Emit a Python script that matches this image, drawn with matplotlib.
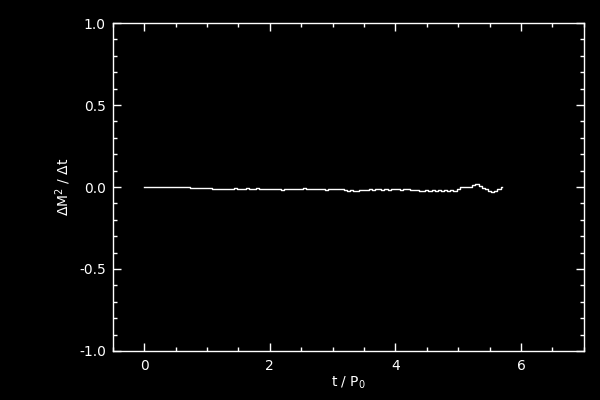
import numpy as np
import matplotlib
matplotlib.use('Agg')
import matplotlib.pyplot as plt
from matplotlib.ticker import MultipleLocator

# time in units of P0, sampled every 0.05
t = np.arange(0, 5.7001, 0.05)
dm2 = [0.0, 0.0, 0.0, 0.0, 0.0, 0.0, 0.0, 0.0, 0.0, 0.0, 0.0, 0.0, 0.0, 0.0, 0.0,
       -0.006, -0.006, -0.006, -0.006, -0.006, -0.006, -0.006,
       -0.012, -0.012, -0.012, -0.010, -0.012, -0.012,
       -0.012, -0.008, -0.012, -0.010, -0.012, -0.008, -0.012, -0.012, -0.008, -0.012, -0.010, -0.012,
       -0.012, -0.014, -0.010, -0.012, -0.016, -0.012, -0.012, -0.010, -0.014, -0.012,
       -0.012, -0.008, -0.010, -0.012, -0.014, -0.012, -0.010, -0.012, -0.016, -0.012,
       -0.012, -0.010, -0.014, -0.012, -0.016, -0.024, -0.020, -0.026, -0.022, -0.018,
       -0.020, -0.016, -0.014, -0.018, -0.012, -0.014, -0.016, -0.012, -0.016, -0.014,
       -0.014, -0.012, -0.016, -0.014, -0.014, -0.018, -0.016, -0.020, -0.022, -0.024,
       -0.020, -0.022, -0.018, -0.026, -0.020, -0.024, -0.016, -0.022, -0.018, -0.024,
       -0.010, -0.002, 0.000, -0.002, 0.002, 0.012, 0.016, 0.004, -0.008, -0.014,
       -0.024, -0.032, -0.022, -0.014, 0.000]

fig = plt.figure(figsize=(6, 4), dpi=100, facecolor='black')
ax = fig.add_axes([0.188, 0.1225, 0.785, 0.82])
ax.set_facecolor('black')

ax.plot(t, dm2, color='white', lw=1, drawstyle='steps-mid')

ax.set_xlim(-0.5, 7)
ax.set_ylim(-1, 1)
ax.xaxis.set_major_locator(MultipleLocator(2))
ax.xaxis.set_minor_locator(MultipleLocator(0.5))
ax.yaxis.set_major_locator(MultipleLocator(0.5))
ax.yaxis.set_minor_locator(MultipleLocator(0.1))
ax.yaxis.set_major_formatter(plt.FormatStrFormatter('%.1f'))

for s in ax.spines.values():
    s.set_color('white')
    s.set_linewidth(1)
ax.tick_params(which='both', direction='in', colors='white', top=True, right=True,
               labelsize=10, width=1)
ax.tick_params(which='major', length=6)
ax.tick_params(which='minor', length=3.2)
ax.tick_params(axis='x', which='major', pad=6)
ax.tick_params(axis='y', which='major', pad=5)

ax.set_xlabel('t / P$_0$', color='white', fontsize=10, labelpad=1)
ax.set_ylabel(r'$\Delta$M$^2$ / $\Delta$t', color='white', fontsize=10, labelpad=4)

fig.savefig('out.png', dpi=100, facecolor='black')
